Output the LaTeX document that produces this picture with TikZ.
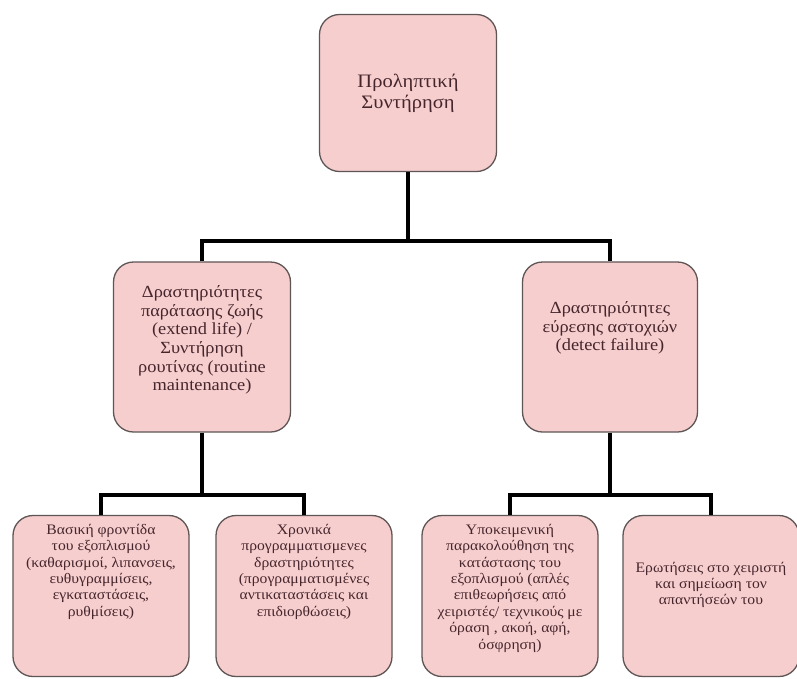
\documentclass[tikz,border=0pt]{standalone}
\usepackage{fontspec}
\setmainfont{Liberation Serif}
\newfontfamily\boxfont[FakeStretch=1.08]{Liberation Serif}
\begin{document}
\begin{tikzpicture}[x=1pt,y=-1pt]
  \definecolor{boxfill}{RGB}{246,206,206}
  \definecolor{boxline}{RGB}{95,85,85}
  \definecolor{ink}{RGB}{70,38,45}
  \tikzset{
    card/.style={draw=boxline, line width=1.3pt, fill=boxfill,
      rounded corners=20pt, inner sep=0pt},
    bigtxt/.style={text=ink, align=center, inner sep=0pt,
      font=\boxfont\fontsize{19}{21}\selectfont},
    midtxt/.style={text=ink, align=center, inner sep=0pt,
      font=\boxfont\fontsize{17}{18.6}\selectfont},
    smalltxt/.style={text=ink, align=center, inner sep=0pt,
      font=\boxfont\fontsize{14.5}{16.4}\selectfont},
    wire/.style={draw=black, line width=3.6pt}
  }
  \useasboundingbox (0,0) rectangle (797,678);
  \fill[white] (0,0) rectangle (797,678);

  % boxes
  \node[card, minimum width=177pt, minimum height=157pt] (root) at (408,93) {};
  \node[card, minimum width=177pt, minimum height=170pt] (life) at (202,347) {};
  \node[card, minimum width=175pt, minimum height=170pt] (fail) at (610,347) {};
  \node[card, minimum width=176pt, minimum height=161pt] (care) at (101,596) {};
  \node[card, minimum width=176pt, minimum height=161pt] (sched) at (304,596) {};
  \node[card, minimum width=176pt, minimum height=161pt] (watch) at (510,596) {};
  \node[card, minimum width=176pt, minimum height=161pt] (ask) at (711,596) {};

  % texts (yshift is in page direction: positive moves up)
  \node[bigtxt] (rootT) at (root) {Προληπτική\\Συντήρηση};
  \node[midtxt] (lifeT) at ([yshift=7pt]life.center) {Δραστηριότητες\\παράτασης ζωής\\(extend life) /\\Συντήρηση\\ρουτίνας (routine\\maintenance)};
  \node[midtxt] (failT) at ([yshift=19pt]fail.center) {Δραστηριότητες\\εύρεσης αστοχιών\\(detect failure)};
  \node[smalltxt, anchor=north] (careT) at ([yshift=-9pt]care.north) {Βασική φροντίδα\\του εξοπλισμού\\(καθαρισμοί, λιπανσεις,\\ευθυγραμμίσεις,\\εγκαταστάσεις,\\ρυθμίσεις)};
  \node[smalltxt, anchor=north] (schedT) at ([yshift=-9pt]sched.north) {Χρονικά\\προγραμματισμενες\\δραστηριότητες\\(προγραμματισμένες\\αντικαταστάσεις και\\επιδιορθώσεις)};
  \node[smalltxt, anchor=north] (watchT) at ([yshift=-9pt]watch.north) {Υποκειμενική\\παρακολούθηση της\\κατάστασης του\\εξοπλισμού (απλές\\επιθεωρήσεις από\\χειριστές/ τεχνικούς με\\όραση , ακοή, αφή,\\όσφρηση)};
  \node[smalltxt] (askT) at ([yshift=11pt]ask.center) {Ερωτήσεις στο χειριστή\\και σημείωση τον\\απαντήσεών του};

  % junction points of the tree
  \coordinate (j0) at (root.south |- 0,241);
  \coordinate (j1) at (life.south |- 0,495);
  \coordinate (j2) at (fail.south |- 0,495);

  % connectors
  \draw[wire] (root.south) -- (j0);
  \draw[wire] (life.north) |- (j0) -| (fail.north);
  \draw[wire] (life.south) -- (j1);
  \draw[wire] (care.north) |- (j1) -| (sched.north);
  \draw[wire] (fail.south) -- (j2);
  \draw[wire] (watch.north) |- (j2) -| (ask.north);
\end{tikzpicture}
\end{document}
